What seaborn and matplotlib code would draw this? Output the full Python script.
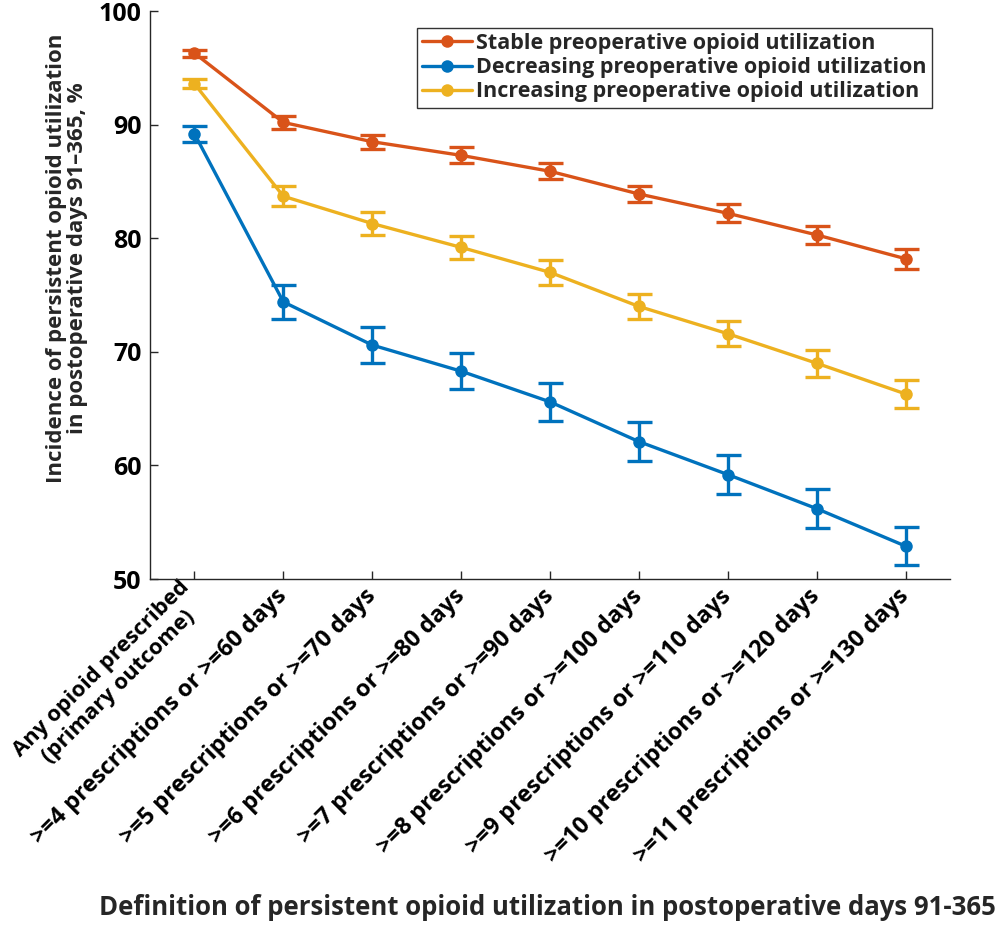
import pandas as pd
import numpy as np
import matplotlib
matplotlib.use("Agg")
import matplotlib.pyplot as plt
import seaborn as sns

sns.set_style("ticks")
plt.rcParams['font.family'] = ['Open Sans', 'DejaVu Sans']
plt.rcParams['font.weight'] = 'bold'

# -----------------------------
# Data
# -----------------------------
categories = [
    "Any opioid prescribed\n(primary outcome)",
    ">=4 prescriptions or >=60 days",
    ">=5 prescriptions or >=70 days",
    ">=6 prescriptions or >=80 days",
    ">=7 prescriptions or >=90 days",
    ">=8 prescriptions or >=100 days",
    ">=9 prescriptions or >=110 days",
    ">=10 prescriptions or >=120 days",
    ">=11 prescriptions or >=130 days",
]

stable = [96.3, 90.2, 88.5, 87.3, 85.9, 83.9, 82.2, 80.3, 78.2]
stable_err = [0.3, 0.6, 0.6, 0.7, 0.7, 0.7, 0.8, 0.8, 0.9]

decreasing = [89.2, 74.4, 70.6, 68.3, 65.6, 62.1, 59.2, 56.2, 52.9]
decreasing_err = [0.7, 1.5, 1.6, 1.6, 1.7, 1.7, 1.7, 1.7, 1.7]

increasing = [93.6, 83.7, 81.3, 79.2, 77.0, 74.0, 71.6, 69.0, 66.3]
increasing_err = [0.4, 0.9, 1.0, 1.0, 1.1, 1.1, 1.1, 1.2, 1.2]

groups = ["Stable preoperative opioid utilization",
          "Decreasing preoperative opioid utilization",
          "Increasing preoperative opioid utilization"]
colors = ["#D95319", "#0072BD", "#EDB120"]

# long-form table for seaborn
rows = []
for g, vals, errs in zip(groups, [stable, decreasing, increasing],
                         [stable_err, decreasing_err, increasing_err]):
    for i, (v, e) in enumerate(zip(vals, errs)):
        rows.append({"pos": i, "value": v, "err": e, "group": g})
df = pd.DataFrame(rows)

# -----------------------------
# Plot
# -----------------------------
fig = plt.figure(figsize=(10, 9.25), dpi=100)
ax = fig.add_axes([0.150, 0.374, 0.800, 0.614])

sns.lineplot(data=df, x="pos", y="value", hue="group", hue_order=groups,
             palette=colors, marker="o", markersize=9, markeredgewidth=0,
             linewidth=2.4, ax=ax, errorbar=None)

for g, c in zip(groups, colors):
    sub = df[df["group"] == g]
    ax.errorbar(sub["pos"], sub["value"], yerr=sub["err"], fmt="none",
                ecolor=c, elinewidth=2.4, capsize=9, capthick=2.4)

ax.set_xlim(-0.5, 8.5)
ax.set_ylim(50, 100)
ax.set_yticks([50, 60, 70, 80, 90, 100])
ax.set_xticks(range(len(categories)))
ax.set_xticklabels(categories, rotation=45, ha="right", va="center",
                   rotation_mode="anchor", fontsize=16.8, fontweight="bold",
                   multialignment="center")
# first label is two lines and would run off the left edge
ax.get_xticklabels()[0].set_fontsize(15.8)
ax.tick_params(axis="both", direction="in", length=6, width=1, colors="#262626",
               labelcolor="black")
ax.tick_params(axis="y", labelsize=18, pad=6)
for lab in ax.get_yticklabels():
    lab.set_fontweight("bold")
ax.tick_params(axis="x", pad=10)

sns.despine(ax=ax)
for s in ["left", "bottom"]:
    ax.spines[s].set_color("#262626")
    ax.spines[s].set_linewidth(1)

ax.set_ylabel("Incidence of persistent opioid utilization\nin postoperative days 91\u2013365, %",
              fontsize=16, fontweight="bold", linespacing=1.0)
ax.yaxis.set_label_coords(-0.078, 0.565)
ax.set_xlabel("")
fig.text(0.547, 0.019,
         "Definition of persistent opioid utilization in postoperative days 91-365",
         fontsize=18.5, fontweight="bold", ha="center", va="center")

leg = ax.legend(loc="upper right", bbox_to_anchor=(0.991, 0.99), fontsize=15.5,
                frameon=True, fancybox=False, edgecolor="black",
                handlelength=2.3, borderpad=0.25, labelspacing=0.15, handletextpad=0.2)
leg.get_frame().set_linewidth(1)
for t in leg.get_texts():
    t.set_fontweight("bold")

plt.savefig("out.png", dpi=100)
